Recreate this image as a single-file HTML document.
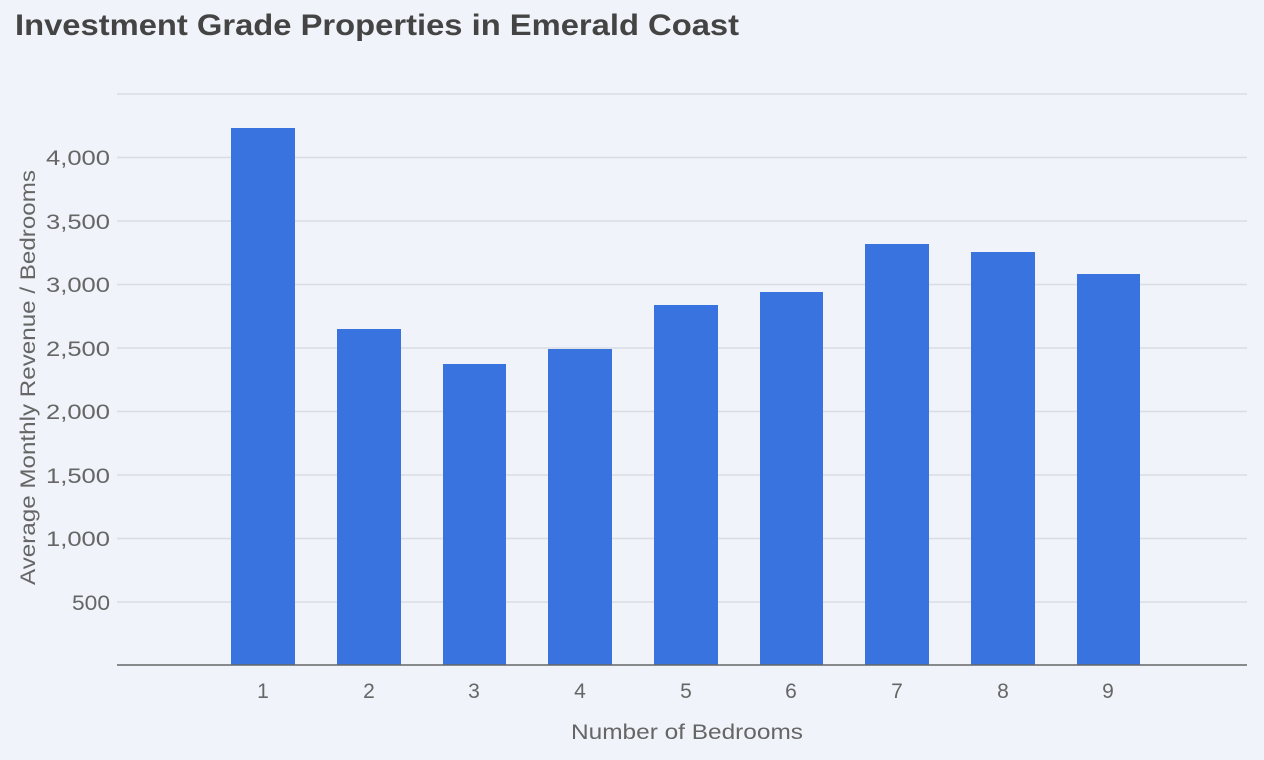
<!DOCTYPE html>
<html><head><style>
html,body{margin:0;padding:0;background:#f0f3f9;}
svg{display:block;font-family:"Liberation Sans",sans-serif;}
</style></head><body>
<svg width="1264" height="760" viewBox="0 0 1264 760">
<rect width="1264" height="760" fill="#f0f3f9"/>
<text x="15" y="35" font-size="30" fill="#444" font-weight="bold" textLength="724" lengthAdjust="spacingAndGlyphs">Investment Grade Properties in Emerald Coast</text>
<g stroke="#d9dce2" stroke-width="1.5">
<line x1="117" x2="1247" y1="94" y2="94"/>
<line x1="117" x2="1247" y1="157.5" y2="157.5"/>
<line x1="117" x2="1247" y1="221" y2="221"/>
<line x1="117" x2="1247" y1="284.5" y2="284.5"/>
<line x1="117" x2="1247" y1="348" y2="348"/>
<line x1="117" x2="1247" y1="411.5" y2="411.5"/>
<line x1="117" x2="1247" y1="475" y2="475"/>
<line x1="117" x2="1247" y1="538.5" y2="538.5"/>
<line x1="117" x2="1247" y1="602" y2="602"/>
</g>
<g font-size="21" fill="#666" text-anchor="end">
<text x="110" y="165" textLength="64" lengthAdjust="spacingAndGlyphs">4,000</text>
<text x="110" y="229" textLength="64" lengthAdjust="spacingAndGlyphs">3,500</text>
<text x="110" y="292" textLength="64" lengthAdjust="spacingAndGlyphs">3,000</text>
<text x="110" y="356" textLength="64" lengthAdjust="spacingAndGlyphs">2,500</text>
<text x="110" y="419" textLength="64" lengthAdjust="spacingAndGlyphs">2,000</text>
<text x="110" y="483" textLength="64" lengthAdjust="spacingAndGlyphs">1,500</text>
<text x="110" y="546" textLength="64" lengthAdjust="spacingAndGlyphs">1,000</text>
<text x="110" y="610" textLength="38" lengthAdjust="spacingAndGlyphs">500</text>
</g>
<g fill="#3873e0">
<rect x="231" y="128" width="64" height="537"/>
<rect x="337" y="329" width="64" height="336"/>
<rect x="443" y="364" width="63" height="301"/>
<rect x="548" y="349" width="64" height="316"/>
<rect x="654" y="305" width="64" height="360"/>
<rect x="760" y="292" width="63" height="373"/>
<rect x="865" y="244" width="64" height="421"/>
<rect x="971" y="252" width="64" height="413"/>
<rect x="1077" y="274" width="63" height="391"/>
</g>
<line x1="117" x2="1247" y1="665" y2="665" stroke="#666" stroke-width="1.5"/>
<g font-size="21" fill="#666" text-anchor="middle">
<text x="263" y="698">1</text>
<text x="369" y="698">2</text>
<text x="474" y="698">3</text>
<text x="580" y="698">4</text>
<text x="686" y="698">5</text>
<text x="791" y="698">6</text>
<text x="897" y="698">7</text>
<text x="1003" y="698">8</text>
<text x="1108" y="698">9</text>
</g>
<text x="571" y="739" font-size="21" fill="#666" textLength="232" lengthAdjust="spacingAndGlyphs">Number of Bedrooms</text>
<text transform="translate(35,585) rotate(-90)" font-size="21" fill="#666" textLength="415" lengthAdjust="spacingAndGlyphs">Average Monthly Revenue / Bedrooms</text>
</svg>
</body></html>
